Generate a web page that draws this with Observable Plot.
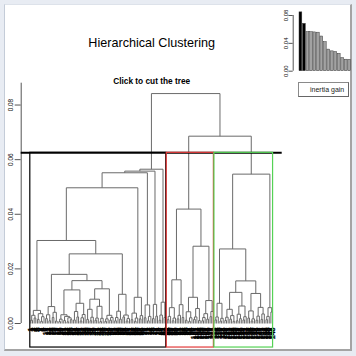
<!DOCTYPE html>
<html>
<head>
<meta charset="utf-8">
<script src="https://cdn.jsdelivr.net/npm/d3@7"></script>
<script src="https://cdn.jsdelivr.net/npm/@observablehq/plot@0.6"></script>
<style>
  html, body { margin: 0; padding: 0; width: 356px; height: 356px; overflow: hidden; background: #e8ecf3; font-family: "Liberation Sans", Arial, sans-serif; }
  #panel { position: absolute; left: 4px; top: 4px; width: 345px; height: 344px; background: white;
           border-left: 1px solid #c4ccd8; border-top: 1px solid #dde2ea; border-right: 2px solid #a4a4a4; border-bottom: 2px solid #a4a4a4; }
  #main { position: absolute; left: 0; top: 0; }
  #inset { position: absolute; left: 270px; top: 0; }
  #legend { position: absolute; left: 298px; top: 82px; width: 51px; height: 15px; box-sizing: border-box;
            border: 1px solid #8a8a8a; border-right-color: #666; border-bottom-color: #666; background: white;
            font: 7px "Liberation Sans", Arial, sans-serif; color: #222; line-height: 13px; padding-left: 11px; white-space: nowrap; }
</style>
</head>
<body>
<div id="panel"></div>
<div id="main"></div>
<div id="inset"></div>
<div id="legend">inertia gain</div>
<script>
// ---------- DATA ----------
// Low-level leaf groups, Newick-like: "." = one individual, number after ")" = merge height (x 0.001)
const groupB1 = "(((.,.)1.2,(.,.)2)3,((.,.)1.5,((.,.)0.8,.)2.5)3.6)4.8";
const groupB2 = "(((.,.)1.8,(.,.)1)3.2,((.,.)2.2,(.,.)0.9)4.1)6.2";
const groupB3 = "(((.,.)0.7,.)1.6,((.,.)1.1,((.,.)0.6,(.,.)1.4)2.1)2.6)3.2";
const groupB4 = "(((.,.)1.3,(.,.)2.4)4.4,(((.,.)0.9,.)2.1,.)3.3)7.4";
const groupB5 = "(((.,.)1.5,((.,.)1,.)2.3)5.2,(((.,.)1.2,.)2,((.,.)0.7,.)1.9)6.3)8.9";
const groupB6 = "(((.,.)0.8,.)1.7,((.,.)1.2,.)2.2)3";
const groupB7 = "((((.,.)1,.)2.2,(.,.)1.6)4.5,((.,.)2.4,((.,.)0.9,.)1.8)3.1)10.7";
const groupB8 = "(((.,.)1.4,((.,.)0.8,.)2)3.8,((.,.)1.7,.)2.9)9.6";
const groupB9 = "((.,.)2.1,((.,.)1,.)2.6)6.8";
const groupB10 = "((.,.)1.8,(.,.)2.7)7";
const groupB11 = "(((.,.)1.2,.)3.1,(.,.)2.2)7.8";
const groupR1 = "((((.,.)1.4,.)2.6,((.,.)1,.)2)5.8,(((.,.)1.7,.)3,(.,.)2.2)6.9)16";
const groupR2 = "(((.,.)1.2,((.,.)0.8,.)2.1)4.3,(((.,.)1.5,.)2.4,(.,.)1.1)5.5)9.6";
const groupR3 = "((((.,.)1,.)2.2,(.,.)1.6)3.6,((.,.)2.5,.)4.4)8.4";
const groupG1 = "(((.,.)1.3,.)2.4,((.,.)0.9,.)1.9)7.4";
const groupG2 = "((((.,.)1.1,.)2.3,((.,.)1.6,(.,.)0.8)2.9)5.2,(((.,.)1,(.,.)1.8)3.4,((.,.)1.3,.)2.5)6.4)11.4";
const groupG3 = "(((.,.)2,((.,.)0.9,.)1.7)4.6,(((.,.)1.2,.)2.7,((.,.)1.5,.)3.5)5.9)11";
const groupG4 = "(((.,.)1.4,.)2.6,(.,.)4.2)5.8";

// Upper merges: [name, left, right, height x 0.001]
const merges = [
  ["B8", "b3", "b4", 12.3],
  ["B9", "b5", "b6", 12.7],
  ["B7", "B8", "B9", 15.7],
  ["B6", "b2", "B7", 18.0],
  ["B5", "B6", "b7", 25.5],
  ["B4", "b1", "B5", 30.4],
  ["B3", "B4", "b8", 49.7],
  ["B2", "B3", "b9", 55.2],
  ["B1", "B2", "b10", 55.8],
  ["B0", "B1", "b11", 56.5],
  ["R1", "r2", "r3", 28.3],
  ["R0", "r1", "R1", 41.9],
  ["G2", "g2", "g3", 15.6],
  ["G1", "g1", "G2", 27.3],
  ["G0", "G1", "g4", 54.7],
  ["RG", "R0", "G0", 68.6],
  ["root", "B0", "RG", 84.2]
];
const clusterRoots = ["B0", "R0", "G0"];
const clusterColors = ["black", "#e23a3a", "#55d255"];
const cutHeight = 0.0625;
const yTicks = [0, 0.02, 0.04, 0.06, 0.08];

const inertiaGain = [0.0845, 0.068, 0.056, 0.056, 0.0557, 0.0553, 0.0498, 0.0417, 0.031, 0.0285, 0.0275, 0.025, 0.0187, 0.0165, 0.0163];
const gainTicks = [0, 0.04, 0.08];

// ---------- BUILD TREE ----------
function parseNewick(s) {
  let i = 0;
  function node() {
    if (s[i] === "(") {
      i++;
      const a = node(); i++;
      const b = node(); i++;
      const j = i;
      while (i < s.length && /[0-9.]/.test(s[i])) i++;
      return {children: [a, b], h: +s.slice(j, i) / 1000};
    }
    i++;
    return {h: 0};
  }
  return node();
}
const nodes = {
  b1: parseNewick(groupB1), b2: parseNewick(groupB2), b3: parseNewick(groupB3), b4: parseNewick(groupB4),
  b5: parseNewick(groupB5), b6: parseNewick(groupB6), b7: parseNewick(groupB7), b8: parseNewick(groupB8),
  b9: parseNewick(groupB9), b10: parseNewick(groupB10), b11: parseNewick(groupB11),
  r1: parseNewick(groupR1), r2: parseNewick(groupR2), r3: parseNewick(groupR3),
  g1: parseNewick(groupG1), g2: parseNewick(groupG2), g3: parseNewick(groupG3), g4: parseNewick(groupG4)
};
for (const [name, l, r, h] of merges) nodes[name] = {children: [nodes[l], nodes[r]], h: h / 1000};
const root = nodes["root"];

const leaves = [];
const segments = [];
function layout(nd) {
  if (!nd.children) { leaves.push(nd); nd.x = leaves.length; nd.label = String(leaves.length); nd.count = 1; return; }
  nd.children.forEach(layout);
  const [a, b] = nd.children;
  nd.x = (a.x + b.x) / 2;
  nd.count = a.count + b.count;
  segments.push({x1: a.x, y1: nd.h, x2: b.x, y2: nd.h});
  segments.push({x1: a.x, y1: a.h, x2: a.x, y2: nd.h});
  segments.push({x1: b.x, y1: b.h, x2: b.x, y2: nd.h});
}
layout(root);
const n = leaves.length;

let start = 0;
const rects = clusterRoots.map((k, i) => {
  const c = nodes[k].count;
  const r = {x1: start + 0.66, x2: start + c + 0.33, y1: -0.0088, y2: cutHeight, color: clusterColors[i]};
  start += c;
  return r;
});

const xMin = 1 - 0.04 * (n - 1), xMax = n + 0.04 * (n - 1);
const font = "'Liberation Sans', Arial, sans-serif";

const main = Plot.plot({
  width: 356, height: 356,
  marginLeft: 20.7, marginRight: 74.3, marginTop: 82.7, marginBottom: 33,
  x: {domain: [xMin, xMax], axis: null},
  y: {domain: [0, 0.088], axis: null},
  style: {background: "transparent", fontFamily: font, overflow: "visible"},
  marks: [
    Plot.link(segments, {x1: "x1", y1: "y1", x2: "x2", y2: "y2", stroke: "#6a6a6a", strokeWidth: 1}),
    Plot.text(leaves, {x: "x", y: 0, text: "label", rotate: -90, textAnchor: "end", lineAnchor: "middle", dy: 4, fontSize: 7, fontWeight: "bold", fill: "black", stroke: "black", strokeWidth: 0.3}),
    Plot.ruleX([xMin], {y1: 0, y2: 0.088, stroke: "#555"}),
    Plot.axisY({ticks: yTicks, tickSize: 6, tickFormat: () => "", label: null, stroke: "#555"}),
    Plot.text(yTicks, {y: d => d, text: d => d.toFixed(2), frameAnchor: "left", textAnchor: "middle", lineAnchor: "middle", rotate: -90, dx: -10.4, fontSize: 6.4, fill: "#111"}),
    Plot.ruleY([cutHeight], {stroke: "black", strokeWidth: 2}),
    Plot.rect(rects, {x1: "x1", x2: "x2", y1: "y1", y2: "y2", stroke: "color", fill: "none", strokeWidth: 1.2}),
    Plot.text(["Hierarchical Clustering"], {text: d => d, frameAnchor: "top", lineAnchor: "middle", dy: -40.7, fontSize: 12.6, fill: "black"}),
    Plot.text(["Click to cut the tree"], {text: d => d, frameAnchor: "top", lineAnchor: "middle", dy: -2.1, fontSize: 8.3, fontWeight: "bold", fill: "black"})
  ]
});
document.getElementById("main").appendChild(main);

const inset = Plot.plot({
  width: 86, height: 80,
  marginLeft: 22.7, marginRight: 5.4, marginTop: 15, marginBottom: 9.3,
  x: {domain: [-1.21, 15.4], axis: null},
  y: {domain: [0, 0.08], axis: null},
  style: {background: "transparent", fontFamily: font, overflow: "visible"},
  marks: [
    Plot.rect(inertiaGain, {x1: (d, i) => i + 0.6, x2: (d, i) => i + 1.4, y1: 0, y2: d => d,
      fill: (d, i) => i < clusterRoots.length - 1 ? "black" : "#a2a2a2", stroke: "#3a3a3a", strokeWidth: 0.5}),
    Plot.ruleX([-1.21], {y1: 0, y2: 0.08, stroke: "#555"}),
    Plot.axisY({ticks: gainTicks, tickSize: 4.3, tickFormat: () => "", label: null, stroke: "#555"}),
    Plot.text(gainTicks, {y: d => d, text: d => d.toFixed(2), frameAnchor: "left", textAnchor: "middle", lineAnchor: "middle", rotate: -90, dx: -6.7, fontSize: 6, fill: "#111"})
  ]
});
document.getElementById("inset").appendChild(inset);
</script>
</body>
</html>
